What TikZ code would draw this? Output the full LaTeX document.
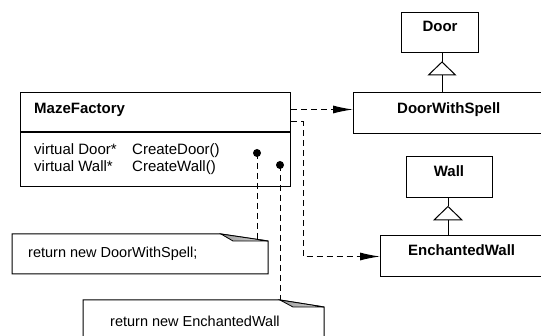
\documentclass[tikz,border=0pt]{standalone}
\usepackage{fontspec}
\setmainfont{Liberation Sans}
\usetikzlibrary{arrows.meta}
\begin{document}
\begin{tikzpicture}[x=1pt,y=-1pt,
  box/.style={draw, line width=1.1pt, inner sep=0pt, anchor=north west},
  cname/.style={font=\fontsize{15}{18}\selectfont\bfseries, inner sep=0pt},
  member/.style={font=\fontsize{15}{18}\selectfont, anchor=base west, inner sep=0pt},
  notetext/.style={font=\fontsize{14.5}{17}\selectfont, anchor=base west, inner sep=0pt},
  dep/.style={line width=1pt, dash pattern=on 6pt off 4pt, -{Latex[length=20pt,width=8pt]}},
  dotnode/.style={circle, fill=black, inner sep=0pt, minimum size=8pt},
  noteline/.style={dash pattern=on 6pt off 4pt, line width=1pt},
  inh/.style={line width=1pt},
  noteshape/.style={line width=1pt, fill=white, line join=miter},
  foldfill/.style={left color=gray!80, right color=gray!25, draw=black, line width=0.8pt}]
\useasboundingbox (0,0) rectangle (541,336);
\clip (0,0) rectangle (541,336);

% MazeFactory
\node[box, minimum width=270pt, minimum height=94pt] (mf) at (20,92) {};
\draw[line width=1.1pt] (mf.west |- 0,132) -- (mf.east |- 0,132);
\node[cname, anchor=base west] (mft) at (34,114) {MazeFactory};
\node[member] (m1a) at (34,155) {virtual Door*};
\node[member] (m1b) at (132,155) {CreateDoor()};
\node[member] (m2a) at (34,172) {virtual Wall*};
\node[member] (m2b) at (132,172) {CreateWall()};

% Door hierarchy
\node[box, minimum width=77pt, minimum height=40pt] (door) at (401,12) {};
\node[cname, anchor=base] (doort) at (440,32) {Door};
\node[box, minimum width=220pt, minimum height=41pt] (dws) at (353,92) {};
\node[cname, anchor=base west] (dwst) at (397,114) {DoorWithSpell};
\coordinate (dtri) at (442,62);
\draw[inh] (door.south -| dtri) -- (dtri);
\draw[inh, fill=white] (dtri) -- ++(-13.5,13) -- ++(27,0) -- cycle;
\draw[inh] ([yshift=-13pt]dtri) -- (dtri |- dws.north);

% Wall hierarchy
\node[box, minimum width=86pt, minimum height=41pt] (wall) at (406,156) {};
\node[cname, anchor=base] (wallt) at (449,177) {Wall};
\node[box, minimum width=200pt, minimum height=41pt] (ew) at (380,235) {};
\node[cname, anchor=base west] (ewt) at (408,256) {EnchantedWall};
\coordinate (wtri) at (448,206.5);
\draw[inh] (wall.south -| wtri) -- (wtri);
\draw[inh, fill=white] (wtri) -- ++(-14,13.5) -- ++(28,0) -- cycle;
\draw[inh] ([yshift=-13.5pt]wtri) -- (wtri |- ew.north);

% dependencies
\draw[dep] (mf.east |- 0,109.5) -- (dws.west |- 0,109.5);
\coordinate (bend) at (303,122);
\draw[dep] (mf.east |- bend) -- (bend) |- (ew.west |- 0,256.5);

% dots and note links
\node[dotnode] (d1) at (257,153) {};
\node[dotnode] (d2) at (280,165) {};
\coordinate (n1) at (257,240);
\coordinate (n2) at (280,300);
\draw[noteline] (d1.center) -- (n1);
\draw[noteline] (d2.center) -- (n2);

% note 1
\draw[noteshape] (12,234) -- (221,234) -- (268,241) -- (268,274) -- (12,274) -- cycle;
\draw[foldfill] (221,234) -- (233,241) -- (268,241) -- cycle;
\node[notetext] (note1) at (28,258) {return new DoorWithSpell;};

% note 2
\draw[noteshape] (83,345) -- (83,300) -- (280,300) -- (324,307) -- (324,345);
\draw[foldfill] (280,300) -- (293,307) -- (324,307) -- cycle;
\node[notetext] (note2) at (110,327) {return new EnchantedWall};
\end{tikzpicture}
\end{document}
